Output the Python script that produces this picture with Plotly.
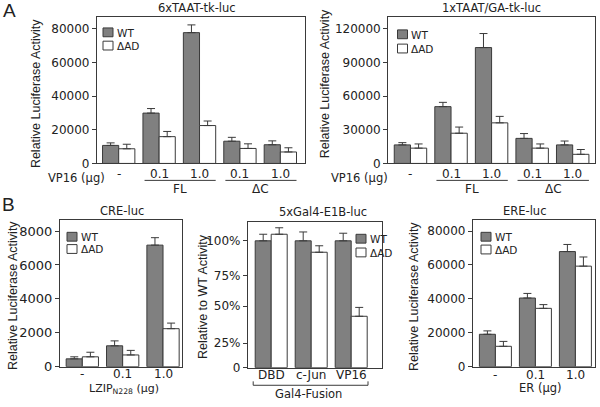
import plotly.graph_objects as go

W, H = 600, 407

# ---------------- data ----------------
# Panel A left: 6xTAAT-tk-luc
a1_labels = ["-", "0.1", "1.0", "0.1", "1.0"]
a1_wt = [10700, 29900, 77700, 13200, 11100]
a1_wt_err = [1500, 2700, 4600, 2300, 2300]
a1_dad = [8700, 15900, 22500, 8900, 6800]
a1_dad_err = [2700, 3100, 2700, 2750, 2500]
a1_yticks = [0, 20000, 40000, 60000, 80000]

# Panel A right: 1xTAAT/GA-tk-luc
a2_labels = ["-", "0.1", "1.0", "0.1", "1.0"]
a2_wt = [16500, 50600, 103200, 22300, 16500]
a2_wt_err = [2000, 3800, 12500, 4300, 3450]
a2_dad = [13600, 26900, 36150, 13600, 8100]
a2_dad_err = [3750, 5500, 5750, 3750, 4300]
a2_yticks = [0, 30000, 60000, 90000, 120000]

# Panel B left: CRE-luc
b1_labels = ["-", "0.1", "1.0"]
b1_wt = [460, 1230, 7170]
b1_wt_err = [120, 290, 440]
b1_dad = [580, 690, 2240]
b1_dad_err = [270, 270, 330]
b1_yticks = [0, 2000, 4000, 6000, 8000]

# Panel B middle: 5xGal4-E1B-luc (tick marks drawn unevenly in the original)
b2_labels = ["DBD", "c-Jun", "VP16"]
b2_wt = [100, 100, 100]
b2_wt_err = [5.2, 7, 6]
b2_dad = [105.2, 91, 40.5]
b2_dad_err = [5.1, 5.1, 7]
b2_yticks = [0, 19.3, 48.5, 72.7, 100]
b2_yticktext = ["0", "25%", "50%", "75%", "100%"]

# Panel B right: ERE-luc
b3_labels = ["-", "0.1", "1.0"]
b3_wt = [19100, 40500, 67900]
b3_wt_err = [2000, 2700, 4200]
b3_dad = [12000, 34400, 59300]
b3_dad_err = [2900, 2200, 5400]
b3_yticks = [0, 20000, 40000, 60000, 80000]

series_names = ["WT", "ΔAD"]

# ---------------- style ----------------
WT_COLOR = "#808080"
EDGE = "#3a3a3a"
TXT = "#222222"
TICKF = "DejaVu Sans, Arial, sans-serif"
YTF = "Liberation Sans, Arial, sans-serif"


def px(x):
    return x / W


def py(y):
    return 1 - y / H


panels = [
    dict(labels=a1_labels, wt=a1_wt, wte=a1_wt_err, dad=a1_dad, dade=a1_dad_err,
         yticks=a1_yticks, ytext=None, box=(97, 17.5, 305, 166.7),
         xr=[-0.537, 4.61], yr=[0, 86900], tfs=12, ly=177),
    dict(labels=a2_labels, wt=a2_wt, wte=a2_wt_err, dad=a2_dad, dade=a2_dad_err,
         yticks=a2_yticks, ytext=None, box=(388.3, 17.5, 595, 166.7),
         xr=[-0.547, 4.55], yr=[0, 130300], tfs=12, ly=177),
    dict(labels=b1_labels, wt=b1_wt, wte=b1_wt_err, dad=b1_dad, dade=b1_dad_err,
         yticks=b1_yticks, ytext=None, box=(60, 224, 182, 374),
         xr=[-0.553, 2.47], yr=[0, 8677], tfs=13, ly=382),
    dict(labels=b2_labels, wt=b2_wt, wte=b2_wt_err, dad=b2_dad, dade=b2_dad_err,
         yticks=b2_yticks, ytext=b2_yticktext, box=(248, 226, 382, 375),
         xr=[-0.58, 2.77], yr=[0, 115.2], tfs=12, ly=383),
    dict(labels=b3_labels, wt=b3_wt, wte=b3_wt_err, dad=b3_dad, dade=b3_dad_err,
         yticks=b3_yticks, ytext=None, box=(473, 224, 595, 374),
         xr=[-0.56, 2.49], yr=[0, 86770], tfs=12, ly=383),
]

fig = go.Figure()
layout = dict(
    width=W, height=H, margin=dict(l=0, r=0, t=0, b=0),
    paper_bgcolor="white", plot_bgcolor="white",
    barmode="group", bargap=0.2, bargroupgap=0,
    showlegend=False,
    font=dict(family=TICKF, color=TXT),
)

ann = []
shapes = []

for i, p in enumerate(panels, start=1):
    xa = "x" if i == 1 else f"x{i}"
    ya = "y" if i == 1 else f"y{i}"
    xs = list(range(len(p["labels"])))
    for name, vals, errs, col in [
        (series_names[0], p["wt"], p["wte"], WT_COLOR),
        (series_names[1], p["dad"], p["dade"], "white"),
    ]:
        fig.add_trace(go.Bar(
            x=xs, y=vals, name=name, xaxis=xa, yaxis=ya,
            marker=dict(color=col, line=dict(color=EDGE, width=1)),
            error_y=dict(type="data", array=errs, arrayminus=[0] * len(errs),
                         symmetric=False, color=EDGE, thickness=1, width=4),
        ))
    x0, y0, x1, y1 = p["box"]
    axis_common = dict(showline=True, mirror=True, linecolor=EDGE, linewidth=1.3,
                       showgrid=False, zeroline=False, fixedrange=True)
    layout[f"xaxis{'' if i == 1 else i}"] = dict(
        domain=[px(x0), px(x1)], anchor=ya, range=p["xr"],
        showticklabels=False, ticks="", **axis_common)
    # category labels under each group
    for xv, lab in zip(xs, p["labels"]):
        ann.append(dict(x=xv, y=py(p["ly"]), xref=xa, yref="paper", text=lab,
                        showarrow=False, yanchor="middle",
                        font=dict(family=TICKF, size=12, color=TXT)))
    ydict = dict(
        domain=[py(y1), py(y0)], anchor=xa, range=p["yr"],
        tickvals=p["yticks"], ticks="outside", ticklen=4, tickwidth=1.2,
        tickcolor=EDGE, tickfont=dict(family=TICKF, size=p["tfs"], color=TXT),
        **axis_common)
    if p["ytext"] is not None:
        ydict["ticktext"] = p["ytext"]
    else:
        ydict["tickformat"] = "d"
    layout[f"yaxis{'' if i == 1 else i}"] = ydict

fig.update_layout(**layout)


def text(x, y, s, size=11, fam=TICKF, angle=0, xanchor="center"):
    ann.append(dict(x=px(x), y=py(y), xref="paper", yref="paper", text=s,
                    showarrow=False, textangle=angle, xanchor=xanchor,
                    yanchor="middle", font=dict(family=fam, size=size, color=TXT)))


# panel letters
text(9, 11, "A", size=19, fam=YTF)
text(8, 209, "B", size=19, fam=YTF)

# titles
text(197, 8, "6xTAAT-tk-luc", size=11.5)
text(492, 8, "1xTAAT/GA-tk-luc", size=11.5)
text(122, 215, "CRE-luc", size=11.5)
text(323, 216, "5xGal4-E1B-luc", size=11.5)
text(524, 215, "ERE-luc", size=11.5)

# y titles
text(36, 96, "Relative Luciferase Activity", size=12.5, fam=YTF, angle=-90)
text(325, 86, "Relative Luciferase Activity", size=12.5, fam=YTF, angle=-90)
text(13, 302, "Relative Luciferase Activity", size=12.5, fam=YTF, angle=-90)
text(203, 303, "Relative to WT Activity", size=12.5, fam=YTF, angle=-90)
text(414, 302, "Relative Luciferase Activity", size=12.5, fam=YTF, angle=-90)

# x-axis captions
text(76, 181.5, "VP16 (µg)", size=11.5)
text(359, 181.5, "VP16 (µg)", size=11.5)
text(124, 396.5, "LZIP<sub>N228</sub> (µg)", size=11)
text(540, 396, "ER (µg)", size=11.5)
text(308, 401.5, "Gal4-Fusion", size=11.5)

# group brackets (panel A)
for xr, (g0, g1, gl) in [("x", (1, 2, "FL")), ("x", (3, 4, "ΔC")),
                         ("x2", (1, 2, "FL")), ("x2", (3, 4, "ΔC"))]:
    shapes.append(dict(type="line", xref=xr, yref="paper", x0=g0 - 0.36, x1=g1 + 0.4,
                       y0=py(184), y1=py(184), line=dict(color=EDGE, width=1)))
    ann.append(dict(x=(g0 + g1) / 2 + 0.02, y=py(193), xref=xr, yref="paper", text=gl,
                    showarrow=False, yanchor="middle",
                    font=dict(family=TICKF, size=12, color=TXT)))

# Gal4-Fusion bracket (panel B middle)
bx0, bx1 = -0.45, 2.42
shapes.append(dict(type="path", xref="x4", yref="paper",
                   path=f"M{bx0},{py(389)} L{bx0},{py(393)} L{bx1},{py(393)} L{bx1},{py(389)}",
                   line=dict(color=EDGE, width=1)))

# legends (custom swatches)
legend_pos = [(103, 28.5, 13.5), (397.5, 30.5, 14.5), (67, 237, 12.5),
              (356, 239, 14), (481, 237, 13)]
for (lx, ly, dy) in legend_pos:
    for k, (nm, col) in enumerate([(series_names[0], WT_COLOR), (series_names[1], "white")]):
        yy = ly + k * dy
        shapes.append(dict(type="rect", xref="paper", yref="paper",
                           x0=px(lx), x1=px(lx + 10), y0=py(yy + 9), y1=py(yy),
                           fillcolor=col, line=dict(color=EDGE, width=1)))
        text(lx + 11.5, yy + 4.8, nm, size=10.5, xanchor="left")

fig.update_layout(annotations=ann, shapes=shapes)
fig.write_html("out.html", config={"displayModeBar": False},
               post_script="document.body.style.margin='0';document.body.style.overflow='hidden';")
